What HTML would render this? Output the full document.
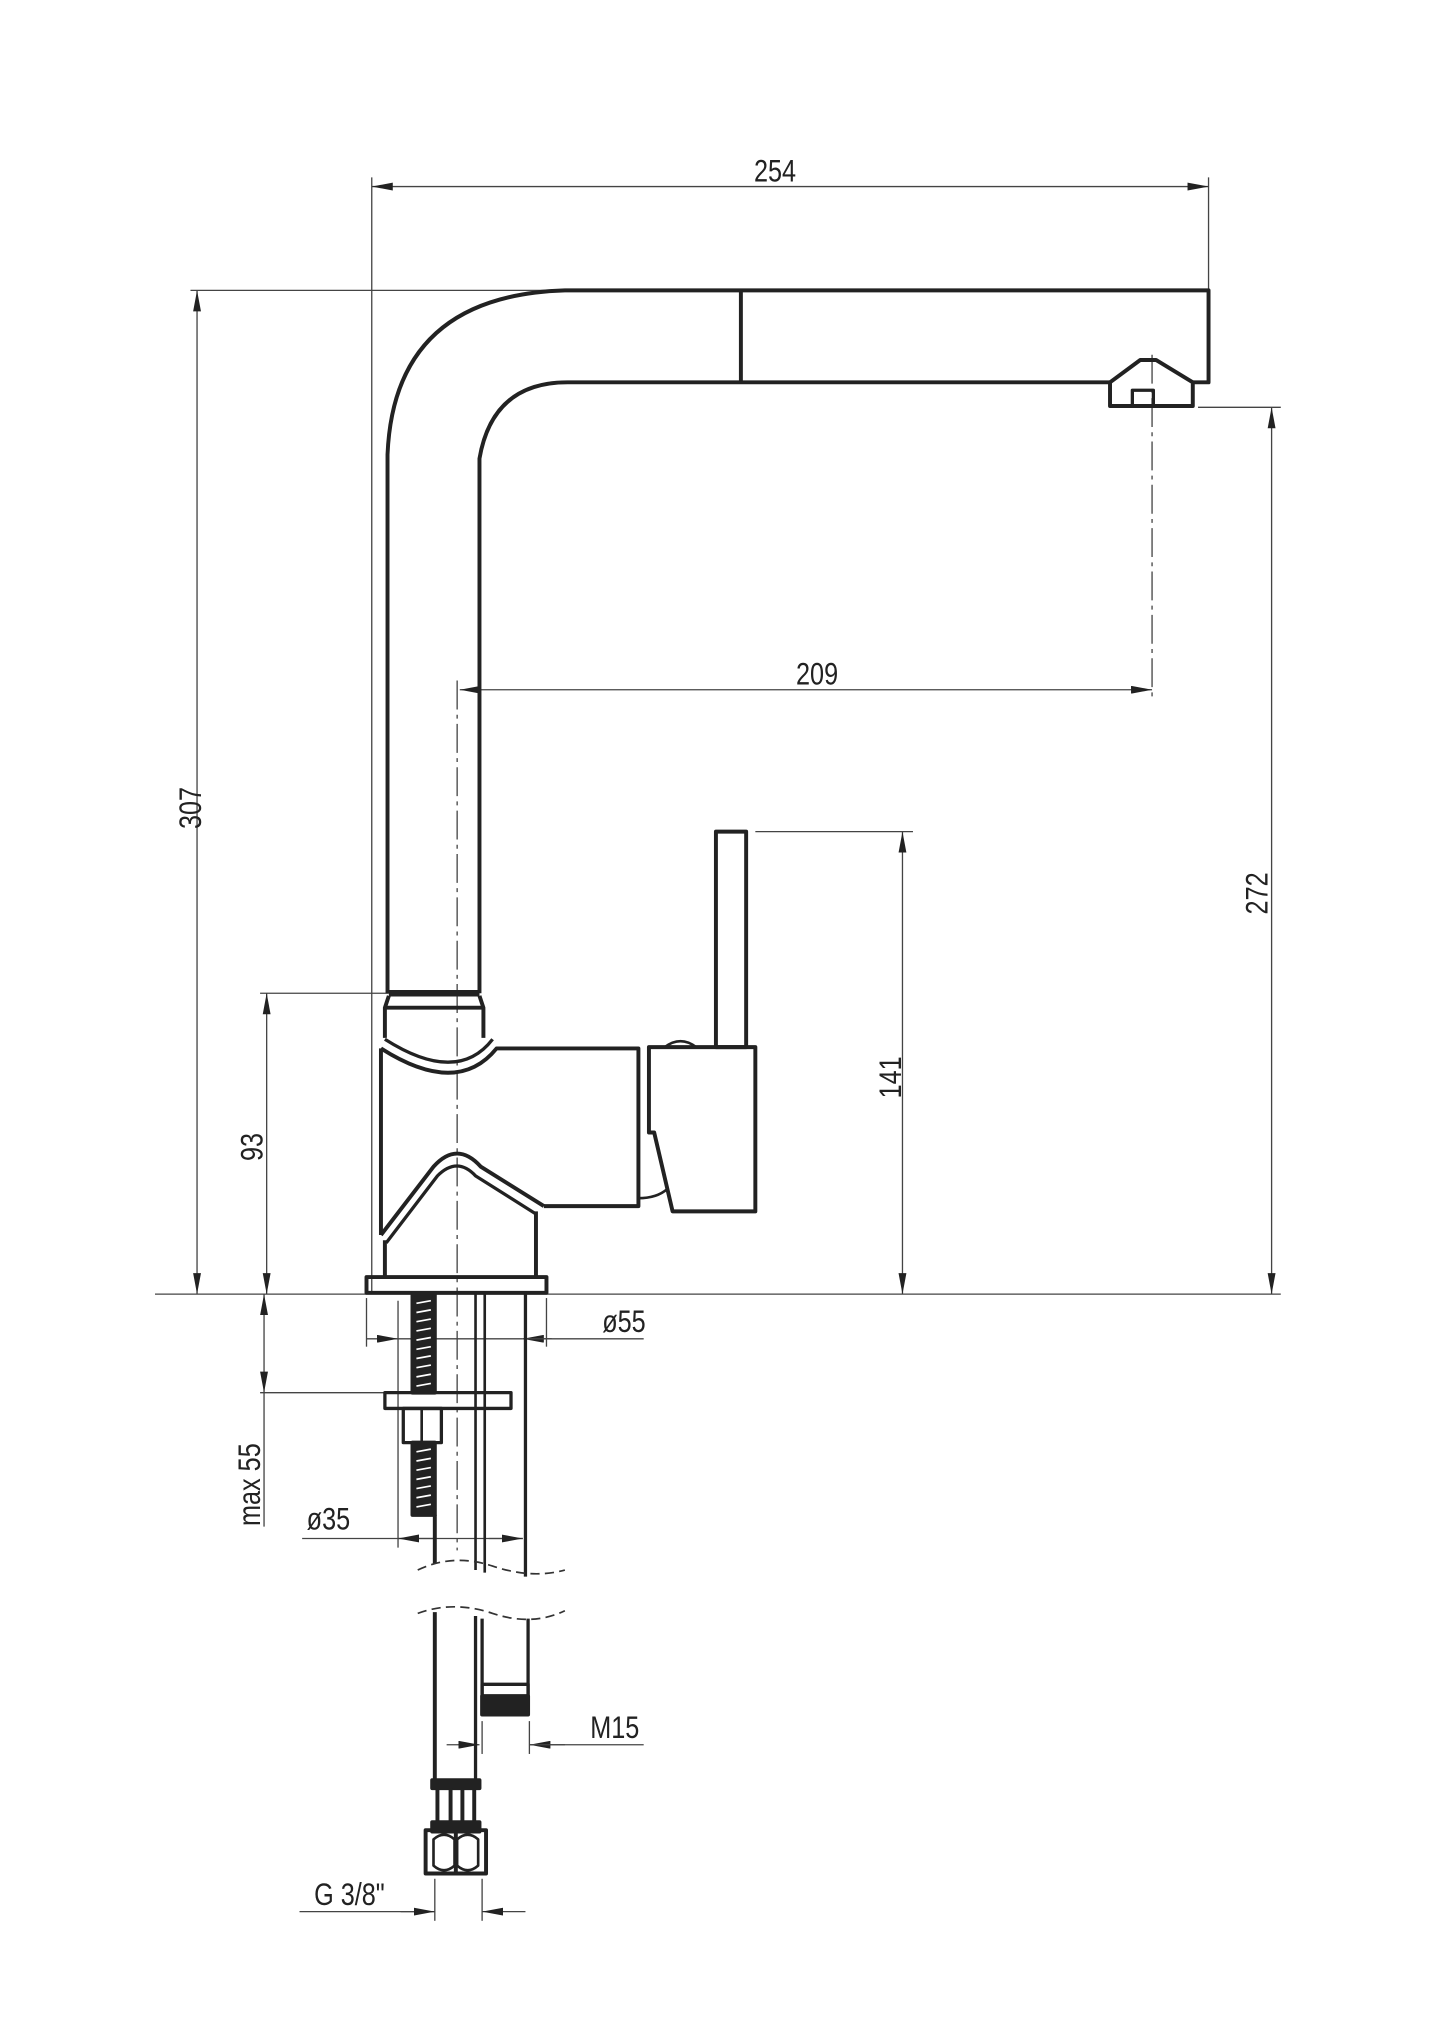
<!DOCTYPE html>
<html><head><meta charset="utf-8"><style>
html,body{margin:0;padding:0;background:#fff}
svg{display:block}
text{font-family:"Liberation Sans",sans-serif;font-size:24px;fill:#222}
</style></head><body>
<svg width="1445" height="2043" viewBox="0 0 1100 1555" preserveAspectRatio="none" xmlns="http://www.w3.org/2000/svg">
<defs>
<marker id="a" viewBox="0 0 16 6" refX="16" refY="3" markerWidth="16" markerHeight="6" markerUnits="userSpaceOnUse" orient="auto-start-reverse"><path d="M0,0 L16,3 L0,6 z" fill="#222"/></marker>
</defs>
<g stroke="#444" stroke-width="1" fill="none">
<line x1="283" y1="135" x2="283" y2="985"/><line x1="920" y1="135" x2="920" y2="220"/>
<line x1="283" y1="142" x2="920" y2="142" marker-start="url(#a)" marker-end="url(#a)"/>
<line x1="145" y1="221" x2="420" y2="221"/>
<line x1="150" y1="221" x2="150" y2="985" marker-start="url(#a)" marker-end="url(#a)"/>
<line x1="118" y1="985" x2="975" y2="985"/>
<line x1="912" y1="310" x2="975" y2="310"/>
<line x1="968" y1="310" x2="968" y2="985" marker-start="url(#a)" marker-end="url(#a)"/>
<line x1="350" y1="525" x2="877" y2="525" marker-start="url(#a)" marker-end="url(#a)"/>
<line x1="575" y1="633" x2="695" y2="633"/>
<line x1="687" y1="633" x2="687" y2="985" marker-start="url(#a)" marker-end="url(#a)"/>
<line x1="198" y1="756" x2="296" y2="756"/>
<line x1="203" y1="756" x2="203" y2="985" marker-start="url(#a)" marker-end="url(#a)"/>
<line x1="198" y1="1060" x2="293" y2="1060"/>
<line x1="201" y1="985" x2="201" y2="1060" marker-start="url(#a)" marker-end="url(#a)"/>
<line x1="201" y1="1060" x2="201" y2="1162"/>
<line x1="279" y1="988" x2="279" y2="1025"/><line x1="416" y1="988" x2="416" y2="1025"/>
<line x1="279" y1="1019" x2="303" y2="1019" marker-end="url(#a)"/>
<line x1="303" y1="1019" x2="398" y2="1019"/>
<line x1="420" y1="1019" x2="398" y2="1019" marker-end="url(#a)"/>
<line x1="398" y1="1019" x2="490" y2="1019"/>
<line x1="303" y1="990" x2="303" y2="1178"/>
<line x1="230" y1="1171" x2="398" y2="1171"/>
<line x1="330" y1="1171" x2="303" y2="1171" marker-end="url(#a)"/>
<line x1="372" y1="1171" x2="398" y2="1171" marker-end="url(#a)"/>
<line x1="367" y1="1310" x2="367" y2="1335"/><line x1="403" y1="1310" x2="403" y2="1335"/>
<line x1="340" y1="1328" x2="365" y2="1328" marker-end="url(#a)"/>
<line x1="430" y1="1328" x2="403" y2="1328" marker-end="url(#a)"/>
<line x1="403" y1="1328" x2="490" y2="1328"/>
<line x1="331" y1="1430" x2="331" y2="1462"/><line x1="367" y1="1430" x2="367" y2="1462"/>
<line x1="228" y1="1455" x2="331" y2="1455"/>
<line x1="305" y1="1455" x2="331" y2="1455" marker-end="url(#a)"/>
<line x1="400" y1="1455" x2="367" y2="1455" marker-end="url(#a)"/>
<line x1="877" y1="270" x2="877" y2="533" stroke-dasharray="22,4,3,4"/>
<line x1="348" y1="518" x2="348" y2="1180" stroke-dasharray="22,4,3,4"/>
</g>
<g stroke="#222" stroke-width="3" fill="none" stroke-linejoin="round">
<path d="M295,756 L295,346 Q300,225 430,221 L920,221 L920,291 L908,291"/>
<path d="M365,756 L365,349 Q375,291 432,291 L845,291"/>
<line x1="564" y1="221" x2="564" y2="291"/>
<path d="M845,291 L845,309 L908,309 L908,291 L880,274 L868,274 Z"/>
<rect x="862" y="297" width="16" height="12" stroke-width="2.5"/>
<line x1="296" y1="756" x2="365" y2="756" stroke-width="5"/>
<path d="M296,758 L293,767 L293,790 M365,758 L368,767 L368,790"/>
<line x1="293" y1="767" x2="368" y2="767"/>
<!-- body -->
<path d="M290,798 L290,940"/>
<path d="M290,798 Q348,835 378,798 L486,798 L486,918 L414,918"/>
<path d="M293,791 Q348,826 375,791" stroke-width="2.5"/>
<path d="M290,940 L330,888 Q348,868 366,888 L414,918"/>
<path d="M294,946 L333,895 Q348,880 362,895 L408,924" stroke-width="2.5"/>
<path d="M293,944 L293,972 M408,922 L408,972"/>
<rect x="279" y="972" width="137" height="12"/>
<!-- handle -->
<path d="M494,797 L575,797 L575,922 L512,922 L498,862 L494,862 Z"/>
<path d="M486,912 Q500,912 508,905" stroke-width="2"/>
<path d="M506,797 Q518,788 530,797" stroke-width="2"/>
<rect x="545" y="633" width="23" height="164"/>
<!-- below -->
<rect x="314" y="985" width="17" height="75" fill="#222"/>
<rect x="293" y="1060" width="96" height="12" stroke-width="2.5"/>
<rect x="307" y="1072" width="29" height="26" stroke-width="2.5"/>
<line x1="321" y1="1072" x2="321" y2="1098" stroke-width="2"/>
<rect x="314" y="1098" width="17" height="55" fill="#222"/>
<line x1="331" y1="1153" x2="331" y2="1190"/>
<line x1="362" y1="985" x2="362" y2="1195" stroke-width="2"/>
<line x1="369" y1="985" x2="369" y2="1197" stroke-width="2"/>
<line x1="400" y1="985" x2="400" y2="1200" stroke-width="2.5"/>
<line x1="331" y1="1227" x2="331" y2="1355"/>
<line x1="362" y1="1230" x2="362" y2="1355" stroke-width="2.5"/>
<line x1="367" y1="1232" x2="367" y2="1290" stroke-width="2.5"/>
<line x1="402" y1="1232" x2="402" y2="1290" stroke-width="2.5"/>
<rect x="367" y="1282" width="35" height="9" stroke-width="2.5"/>
<rect x="367" y="1291" width="35" height="14" fill="#222"/>
<rect x="329" y="1355" width="36" height="6" fill="#222"/>
<path d="M333,1361 L333,1389 M343,1361 L343,1389 M352,1361 L352,1389 M361,1361 L361,1389"/>
<rect x="329" y="1387" width="36" height="7" fill="#222"/>
<rect x="324" y="1393" width="46" height="33"/>
<path d="M347,1393 L347,1426"/>
<path d="M330,1400 Q338,1393 346,1400 L346,1420 Q338,1427 330,1420 Z M348,1400 Q356,1393 364,1400 L364,1420 Q356,1427 348,1420 Z" stroke-width="2"/>
</g>
<g stroke="#fff" stroke-width="1.3">
<path d="M317,992 l11,-2 M317,999 l11,-2 M317,1006 l11,-2 M317,1013 l11,-2 M317,1020 l11,-2 M317,1027 l11,-2 M317,1034 l11,-2 M317,1041 l11,-2 M317,1048 l11,-2 M317,1055 l11,-2"/>
<path d="M317,1105 l11,-2 M317,1112 l11,-2 M317,1119 l11,-2 M317,1126 l11,-2 M317,1133 l11,-2 M317,1140 l11,-2 M317,1147 l11,-2"/>
</g>
<g stroke="#333" stroke-width="1.3" fill="none" stroke-dasharray="7,4">
<path d="M318,1195 Q345,1182 375,1192 T430,1195"/>
<path d="M318,1228 Q345,1218 375,1228 T430,1226"/>
</g>
<g>
<text x="590" y="138" text-anchor="middle" transform="translate(590 0) scale(0.8 1) translate(-590 0)">254</text>
<text x="622" y="521" text-anchor="middle" transform="translate(622 0) scale(0.8 1) translate(-622 0)">209</text>
<text transform="translate(153 615) rotate(-90) scale(0.8 1)" text-anchor="middle">307</text>
<text transform="translate(965 680) rotate(-90) scale(0.8 1)" text-anchor="middle">272</text>
<text transform="translate(686 820) rotate(-90) scale(0.8 1)" text-anchor="middle">141</text>
<text transform="translate(200 873) rotate(-90) scale(0.8 1)" text-anchor="middle">93</text>
<text transform="translate(198 1130) rotate(-90) scale(0.8 1)" text-anchor="middle">max 55</text>
<text x="475" y="1014" text-anchor="middle" transform="translate(475 0) scale(0.8 1) translate(-475 0)">ø55</text>
<text x="250" y="1164" text-anchor="middle" transform="translate(250 0) scale(0.8 1) translate(-250 0)">ø35</text>
<text x="468" y="1323" text-anchor="middle" transform="translate(468 0) scale(0.8 1) translate(-468 0)">M15</text>
<text x="266" y="1450" text-anchor="middle" transform="translate(266 0) scale(0.8 1) translate(-266 0)">G 3/8"</text>
</g>
</svg>
</body></html>
